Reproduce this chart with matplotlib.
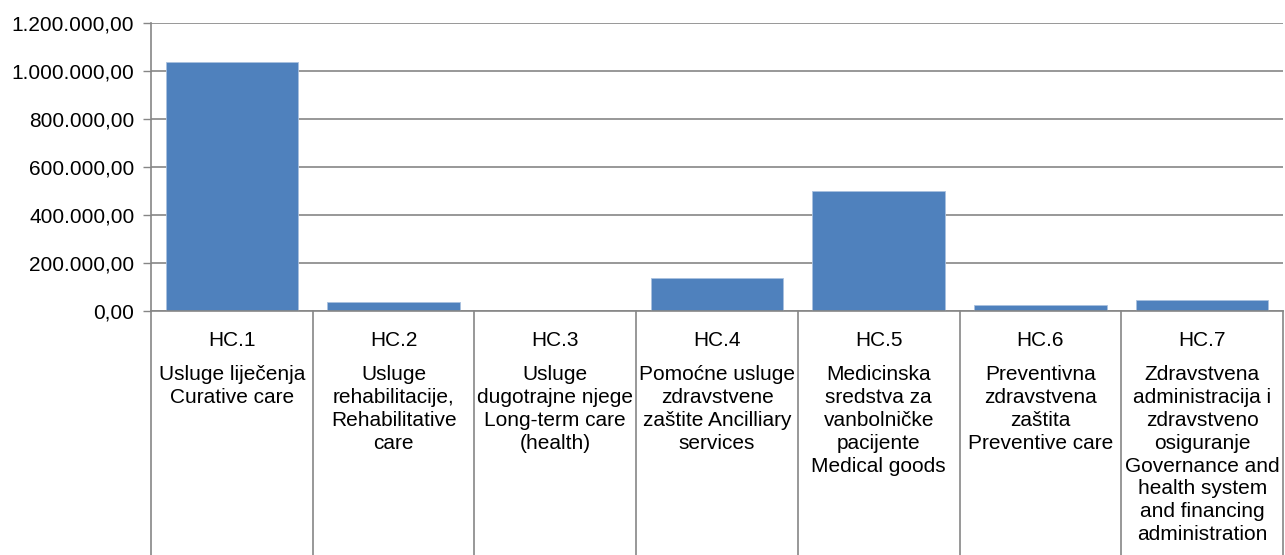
import matplotlib.pyplot as plt
from matplotlib.ticker import FuncFormatter

plt.rcParams['font.family'] = ['Liberation Sans', 'DejaVu Sans']

codes = ['HC.1', 'HC.2', 'HC.3', 'HC.4', 'HC.5', 'HC.6', 'HC.7']
descriptions = [
    'Usluge liječenja\nCurative care',
    'Usluge\nrehabilitacije,\nRehabilitative\ncare',
    'Usluge\ndugotrajne njege\nLong-term care\n(health)',
    'Pomoćne usluge\nzdravstvene\nzaštite Ancilliary\nservices',
    'Medicinska\nsredstva za\nvanbolničke\npacijente\nMedical goods',
    'Preventivna\nzdravstvena\nzaštita\nPreventive care',
    'Zdravstvena\nadministracija i\nzdravstveno\nosiguranje\nGovernance and\nhealth system\nand financing\nadministration',
]
values = [1039000, 36000, 0, 137500, 501700, 23700, 47500]
yticks = [0, 200000, 400000, 600000, 800000, 1000000, 1200000]

W, H = 1285, 555
fig = plt.figure(figsize=(W / 100, H / 100), dpi=100)
ax = fig.add_axes([151 / W, 1 - 311 / H, (1283 - 151) / W, (311 - 23) / H])

grey = '#868686'
fs = 15
x = list(range(len(codes)))
ax.bar(x, values, width=0.82, color='#4F81BD', edgecolor='#A9C1DF', linewidth=0.6, zorder=3)

ax.set_xlim(-0.5, len(codes) - 0.5)
ax.set_ylim(0, 1200000)
ax.set_yticks(yticks)
ax.yaxis.set_major_formatter(FuncFormatter(
    lambda v, p: '{:,.2f}'.format(v).replace(',', 'X').replace('.', ',').replace('X', '.')))
ax.tick_params(axis='y', length=6, width=1, color=grey, labelsize=fs, pad=6)
ax.set_xticks([])
ax.grid(axis='y', color=grey, linewidth=1.2, zorder=0)

for s in ['top', 'right']:
    ax.spines[s].set_visible(False)
for s in ['left', 'bottom']:
    ax.spines[s].set_color(grey)
    ax.spines[s].set_linewidth(1.2)
    ax.spines[s].set_zorder(4)

# category cells below the axis
depth = (555 - 311) / (311 - 23)
for i in range(len(codes) + 1):
    ax.plot([i - 0.5, i - 0.5], [0, -depth], transform=ax.get_xaxis_transform(),
            color=grey, linewidth=1.2, clip_on=False)

for i, (c, d) in enumerate(zip(codes, descriptions)):
    ax.text(i, -(341 - 311) / 288, c, transform=ax.get_xaxis_transform(),
            ha='center', va='center', fontsize=fs)
    ax.text(i, -(365 - 311) / 288, d, transform=ax.get_xaxis_transform(),
            ha='center', va='top', fontsize=fs, linespacing=1.26)

fig.savefig('out.png', dpi=100)
